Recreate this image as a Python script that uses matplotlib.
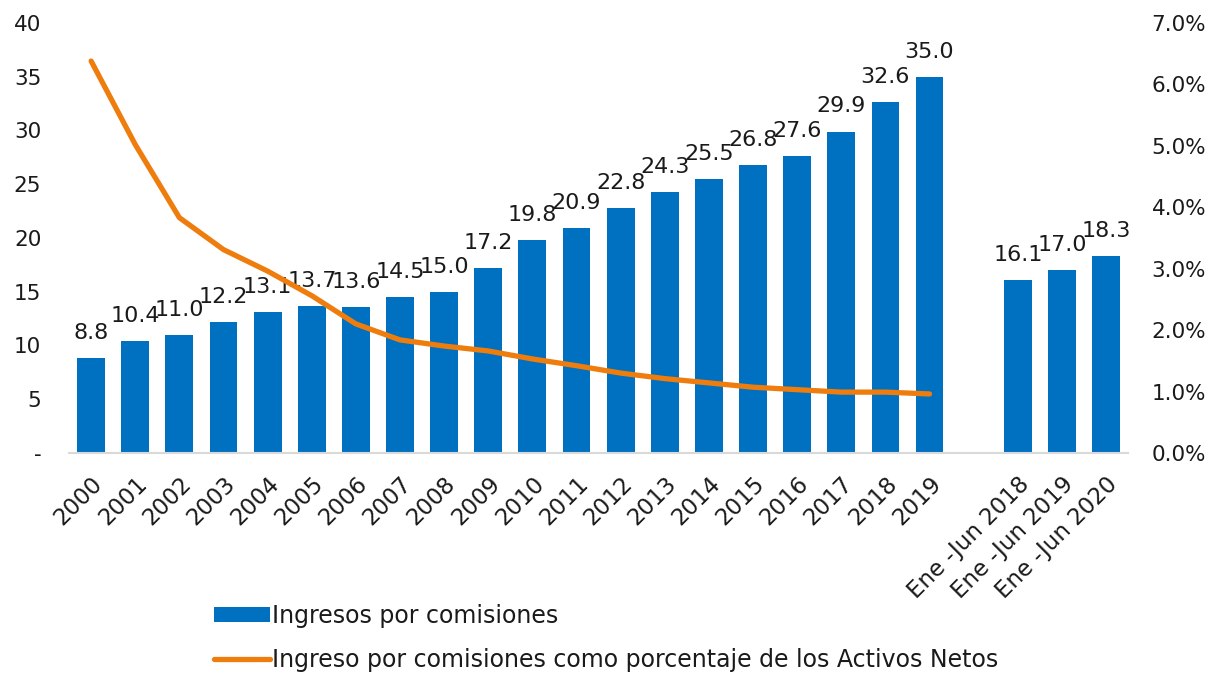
import matplotlib
matplotlib.use("Agg")
import matplotlib.pyplot as plt
import matplotlib.transforms as mtransforms
import numpy as np
from matplotlib.ticker import FuncFormatter

categories = [str(y) for y in range(2000, 2020)] + ["", "Ene -Jun 2018", "Ene -Jun 2019", "Ene -Jun 2020"]
ingresos = [8.8, 10.4, 11.0, 12.2, 13.1, 13.7, 13.6, 14.5, 15.0, 17.2, 19.8, 20.9, 22.8,
            24.3, 25.5, 26.8, 27.6, 29.9, 32.6, 35.0, None, 16.1, 17.0, 18.3]
porcentaje = [6.38, 5.02, 3.83, 3.31, 2.96, 2.56, 2.10, 1.84, 1.74, 1.66, 1.53, 1.42, 1.30,
              1.21, 1.14, 1.07, 1.03, 0.99, 0.99, 0.96]
left_ticks = [0, 5, 10, 15, 20, 25, 30, 35, 40]
right_ticks = [0, 1, 2, 3, 4, 5, 6, 7]

plt.rcParams['font.family'] = ['DejaVu Sans']
text_color = '#1a1a1a'
bar_color = '#0070C0'
line_color = '#EE7D0E'

fig = plt.figure(figsize=(12.18, 6.75), dpi=100)
ax = fig.add_axes([0.0567, 0.329, 0.8695, 0.637])
ax2 = ax.twinx()

x = np.arange(len(categories))
bar_x = [i for i, v in zip(x, ingresos) if v is not None]
bar_v = [v for v in ingresos if v is not None]
ax.bar(bar_x, bar_v, width=0.63, color=bar_color, label='Ingresos por comisiones', zorder=2)
for bx, bv in zip(bar_x, bar_v):
    ax.text(bx, bv + 1.4, f"{bv:.1f}", ha='center', va='bottom', fontsize=16, color=text_color)

ax2.plot(x[:len(porcentaje)], porcentaje, color=line_color, lw=3.8, solid_capstyle='round',
         label='Ingreso por comisiones como porcentaje de los Activos Netos', zorder=3)

ax.set_xlim(-0.5, len(categories) - 0.5)
ax.set_ylim(0, 40)
ax2.set_ylim(0, 7)
ax.set_yticks(left_ticks)
ax.yaxis.set_major_formatter(FuncFormatter(lambda v, p: '-' if v == 0 else f"{v:.0f}"))
ax2.set_yticks(right_ticks)
ax2.yaxis.set_major_formatter(FuncFormatter(lambda v, p: f"{v:.1f}%"))

ax.set_xticks(x)
ax.set_xticklabels(categories, rotation=45, ha='right', rotation_mode='anchor', fontsize=16.5, color=text_color)
offset = mtransforms.ScaledTranslation(-8 / 100, 0, fig.dpi_scale_trans)
for lab in ax.get_xticklabels():
    lab.set_transform(lab.get_transform() + offset)
ax.tick_params(axis='x', length=0, pad=14)
ax.tick_params(axis='y', length=0, labelsize=15.5, labelcolor=text_color, pad=20)
ax2.tick_params(axis='y', length=0, labelsize=15.5, labelcolor=text_color, pad=17)

for a in (ax, ax2):
    for s in a.spines.values():
        s.set_visible(False)
ax.spines['bottom'].set_visible(True)
ax.spines['bottom'].set_color('#d9d9d9')
ax.spines['bottom'].set_linewidth(1.5)

ax2.set_zorder(ax.get_zorder() + 1)
ax2.patch.set_visible(False)

h1, l1 = ax.get_legend_handles_labels()
h2, l2 = ax2.get_legend_handles_labels()
fig.legend(h1 + h2, l1 + l2, loc='upper left', bbox_to_anchor=(0.158, 0.137), frameon=False,
           fontsize=17, handlelength=2.4, handleheight=0.6, handletextpad=0.05, labelspacing=0.85,
           labelcolor=text_color)

fig.savefig('out.png', dpi=100)
